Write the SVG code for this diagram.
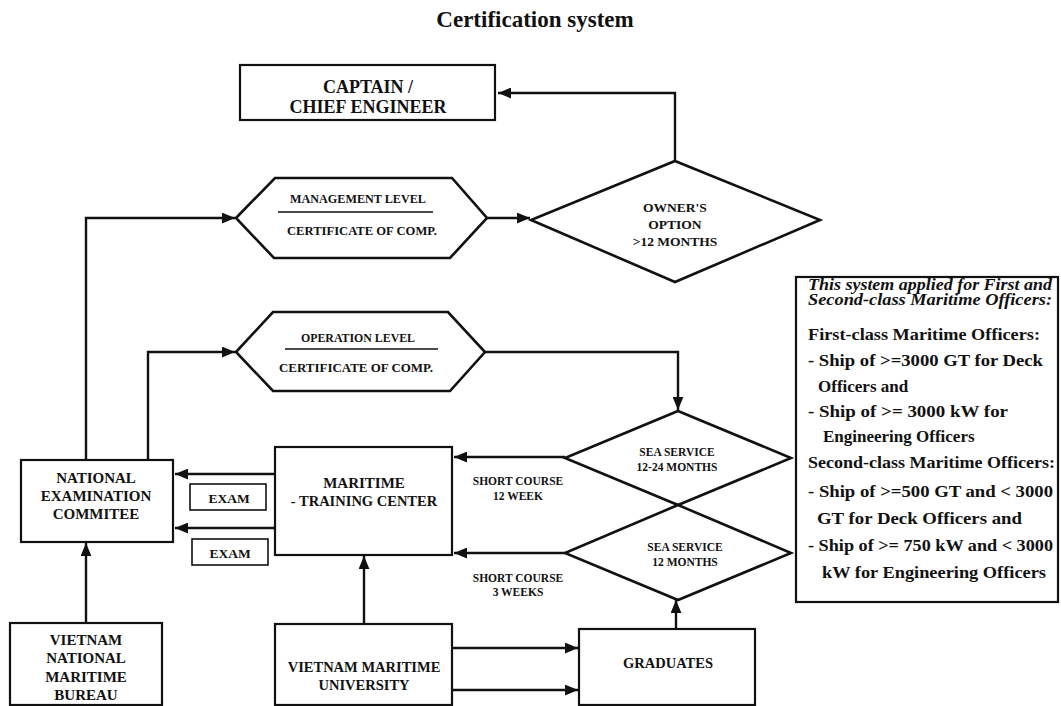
<svg xmlns="http://www.w3.org/2000/svg" width="1061" height="706" viewBox="0 0 1061 706">
<style>
text{font-family:"Liberation Serif","Times New Roman",serif;font-weight:bold;fill:#111;text-anchor:middle}
.box{fill:#fff;stroke:#111;stroke-width:2.2}
.thin{fill:#fff;stroke:#111;stroke-width:1.6}
.shape{fill:#fff;stroke:#111;stroke-width:2.6;stroke-linejoin:miter}
.con{fill:none;stroke:#111;stroke-width:2.4}
.t18{font-size:18px}
.t15{font-size:15px}
.t14{font-size:14.5px}
.t13{font-size:13.5px}
.t12{font-size:12px}
.t11{font-size:11.5px}
.info{font-size:17px;text-anchor:start}
.ital{font-style:italic;font-size:16px}
</style>
<defs>
<marker id="arr" viewBox="0 0 12 10" refX="12" refY="5" markerWidth="13" markerHeight="11" markerUnits="userSpaceOnUse" orient="auto">
<path d="M0,0 L12,5 L0,10 z" fill="#111"/>
</marker>
</defs>
<rect width="1061" height="706" fill="#fff"/>
<text x="535" y="27" style="font-size:23px">Certification system</text>

<g id="connectors">
<path class="con" d="M675,161 V93 H498" marker-end="url(#arr)"/>
<path class="con" d="M487,218 H530" marker-end="url(#arr)"/>
<path class="con" d="M485,352 H678 V410" marker-end="url(#arr)"/>
<path class="con" d="M565,457 H454" marker-end="url(#arr)"/>
<path class="con" d="M565,553 H454" marker-end="url(#arr)"/>
<path class="con" d="M275,474 H175" marker-end="url(#arr)"/>
<path class="con" d="M275,528 H175" marker-end="url(#arr)"/>
<path class="con" d="M86,460 V218 H235" marker-end="url(#arr)"/>
<path class="con" d="M148,460 V352 H235" marker-end="url(#arr)"/>
<path class="con" d="M86,623 V543" marker-end="url(#arr)"/>
<path class="con" d="M364,623 V556" marker-end="url(#arr)"/>
<path class="con" d="M452,648 H578" marker-end="url(#arr)"/>
<path class="con" d="M452,690 H578" marker-end="url(#arr)"/>
<path class="con" d="M676,629 V600" marker-end="url(#arr)"/>
</g>

<g id="captain">
<rect class="box" x="240" y="65" width="255" height="55"/>
<text class="t18" x="368" y="93">CAPTAIN /</text>
<text class="t18" x="368" y="113">CHIEF ENGINEER</text>
</g>

<g id="management">
<polygon class="shape" points="236,218 275,178 452,178 487,218 450,258 274,258"/>
<text class="t12" x="358" y="203" textLength="136" lengthAdjust="spacingAndGlyphs">MANAGEMENT LEVEL</text>
<line x1="278" y1="212" x2="433" y2="212" stroke="#111" stroke-width="1.6"/>
<text class="t12" x="362" y="235" textLength="150" lengthAdjust="spacingAndGlyphs">CERTIFICATE OF COMP.</text>
</g>

<g id="owner">
<polygon class="shape" points="675,161 820,220 675,282 531,220"/>
<text class="t13" x="675" y="212">OWNER'S</text>
<text class="t13" x="675" y="229">OPTION</text>
<text class="t13" x="675" y="246">&gt;12 MONTHS</text>
</g>

<g id="operation">
<polygon class="shape" points="236,352 273,312 448,312 485,352 450,391 273,391"/>
<text class="t12" x="358" y="342" textLength="114" lengthAdjust="spacingAndGlyphs">OPERATION LEVEL</text>
<line x1="285" y1="349" x2="438" y2="349" stroke="#111" stroke-width="1.6"/>
<text class="t12" x="356" y="372" textLength="154" lengthAdjust="spacingAndGlyphs">CERTIFICATE OF COMP.</text>
</g>

<g id="sea1224">
<polygon class="shape" points="678,411 791,458 678,505 565,458"/>
<text class="t11" x="677" y="456">SEA SERVICE</text>
<text class="t11" x="677" y="471">12-24 MONTHS</text>
</g>

<g id="sea12">
<polygon class="shape" points="678,505 791,553 678,600 565,553"/>
<text class="t11" x="685" y="551">SEA SERVICE</text>
<text class="t11" x="685" y="566">12 MONTHS</text>
</g>

<g id="short12">
<text class="t11" x="518" y="485">SHORT COURSE</text>
<text class="t11" x="518" y="500">12 WEEK</text>
</g>
<g id="short3">
<text class="t11" x="518" y="582">SHORT COURSE</text>
<text class="t11" x="518" y="596">3 WEEKS</text>
</g>

<g id="exam-committee">
<rect class="box" x="21" y="460" width="152" height="82"/>
<text class="t15" x="96" y="483">NATIONAL</text>
<text class="t15" x="96" y="501">EXAMINATION</text>
<text class="t15" x="96" y="519">COMMITEE</text>
</g>

<g id="exam1">
<rect class="thin" x="190" y="484" width="76" height="26"/>
<text class="t13" x="229" y="503">EXAM</text>
</g>
<g id="exam2">
<rect class="thin" x="192" y="539" width="76" height="26"/>
<text class="t13" x="230" y="558">EXAM</text>
</g>

<g id="training-center">
<rect class="box" x="275" y="447" width="177" height="108"/>
<text class="t15" x="364" y="488">MARITIME</text>
<text class="t14" x="364" y="506">- TRAINING CENTER</text>
</g>

<g id="bureau">
<rect class="box" x="10" y="623" width="152" height="82"/>
<text class="t15" x="86" y="645">VIETNAM</text>
<text class="t15" x="86" y="663">NATIONAL</text>
<text class="t15" x="86" y="682">MARITIME</text>
<text class="t15" x="86" y="700">BUREAU</text>
</g>

<g id="university">
<rect class="box" x="275" y="624" width="177" height="81"/>
<text class="t14" x="364" y="672">VIETNAM MARITIME</text>
<text class="t14" x="364" y="690">UNIVERSITY</text>
</g>

<g id="graduates">
<rect class="box" x="579" y="629" width="176" height="76"/>
<text class="t14" x="668" y="668">GRADUATES</text>
</g>

<g id="info">
<rect class="box" x="796" y="277" width="262" height="325"/>
<text class="info ital" x="808" y="290" textLength="244" lengthAdjust="spacingAndGlyphs">This system applied for First and</text>
<text class="info ital" x="808" y="305" textLength="244" lengthAdjust="spacingAndGlyphs">Second-class Maritime Officers:</text>
<text class="info" x="808" y="340" textLength="232" lengthAdjust="spacingAndGlyphs">First-class Maritime Officers:</text>
<text class="info" x="808" y="366" textLength="235" lengthAdjust="spacingAndGlyphs">- Ship of  &gt;=3000 GT for Deck</text>
<text class="info" x="818" y="392">Officers and</text>
<text class="info" x="808" y="417" textLength="200" lengthAdjust="spacingAndGlyphs">- Ship of  &gt;= 3000 kW for</text>
<text class="info" x="823" y="442">Engineering Officers</text>
<text class="info" x="808" y="468" textLength="247" lengthAdjust="spacingAndGlyphs">Second-class Maritime Officers:</text>
<text class="info" x="808" y="497" textLength="245" lengthAdjust="spacingAndGlyphs">- Ship of  &gt;=500 GT and  &lt; 3000</text>
<text class="info" x="817" y="524" textLength="205" lengthAdjust="spacingAndGlyphs">GT for Deck  Officers and</text>
<text class="info" x="808" y="551" textLength="245" lengthAdjust="spacingAndGlyphs">- Ship of  &gt;= 750 kW and &lt; 3000</text>
<text class="info" x="822" y="578" textLength="224" lengthAdjust="spacingAndGlyphs">kW for Engineering Officers</text>
</g>
</svg>
